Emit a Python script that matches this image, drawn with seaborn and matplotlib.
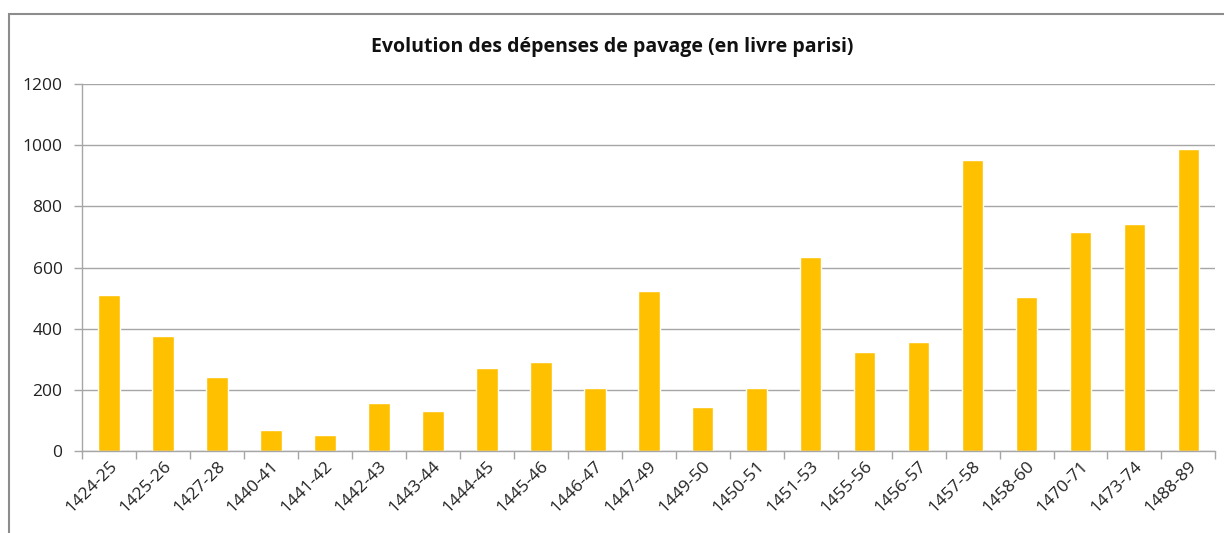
import numpy as np
import pandas as pd
import matplotlib
matplotlib.use("Agg")
import matplotlib.pyplot as plt
import seaborn as sns
from matplotlib.patches import Rectangle

periodes = ["1424-25", "1425-26", "1427-28", "1440-41", "1441-42", "1442-43", "1443-44",
            "1444-45", "1445-46", "1446-47", "1447-49", "1449-50", "1450-51", "1451-53",
            "1455-56", "1456-57", "1457-58", "1458-60", "1470-71", "1473-74", "1488-89"]
depenses = [509, 377, 241, 67, 51, 158, 130, 272, 292, 207, 523, 144, 207, 636,
            323, 355, 952, 504, 718, 743, 987]
y_ticks = [0, 200, 400, 600, 800, 1000, 1200]

df = pd.DataFrame({"periode": periodes, "depense": depenses})

sns.set_theme(style="white")
plt.rcParams["font.family"] = ["Open Sans", "DejaVu Sans"]

fig = plt.figure(figsize=(12.24, 5.33), dpi=100)
ax = fig.add_axes([0.067, 0.154, 0.926, 0.688])

sns.barplot(data=df, x="periode", y="depense", color="#FFC000", saturation=1,
            width=0.4, ax=ax)

ax.set_ylim(0, 1200)
ax.set_yticks(y_ticks)
ax.set_xlim(-0.5, len(periodes) - 0.5)
ax.yaxis.grid(True, color="#A6A6A6", linewidth=1)
ax.set_axisbelow(True)
ax.set_xlabel("")
ax.set_ylabel("")

for s in ["top", "right"]:
    ax.spines[s].set_visible(False)
for s in ["left", "bottom"]:
    ax.spines[s].set_color("#A6A6A6")
    ax.spines[s].set_linewidth(1)

# tick marks between categories, like Excel
ax.set_xticks(np.arange(-0.5, len(periodes), 1), minor=True)
ax.tick_params(axis="x", which="minor", length=6, color="#A6A6A6", width=1, direction="out", bottom=True)
ax.tick_params(axis="x", which="major", length=0, pad=5)
ax.tick_params(axis="y", which="major", length=6, color="#A6A6A6", width=1, direction="out", left=True, pad=8)
ax.set_xticklabels(periodes, rotation=45, ha="right", rotation_mode="anchor", fontsize=12.5, color="#222222")
for lab in ax.get_yticklabels():
    lab.set_fontsize(12.5)
    lab.set_color("#222222")

fig.text(0.5, 0.912, "Evolution des dépenses de pavage (en livre parisi)", ha="center", va="center",
         fontsize=14, fontweight="bold", color="#111111")

# outer chart frame
fig.patches.append(Rectangle((9 / 1224, -0.1), 1.1, 1.1 - 14 / 533, transform=fig.transFigure,
                             fill=False, edgecolor="#8C8C8C", linewidth=1.5))

fig.savefig("out.png", dpi=100, facecolor="white")
